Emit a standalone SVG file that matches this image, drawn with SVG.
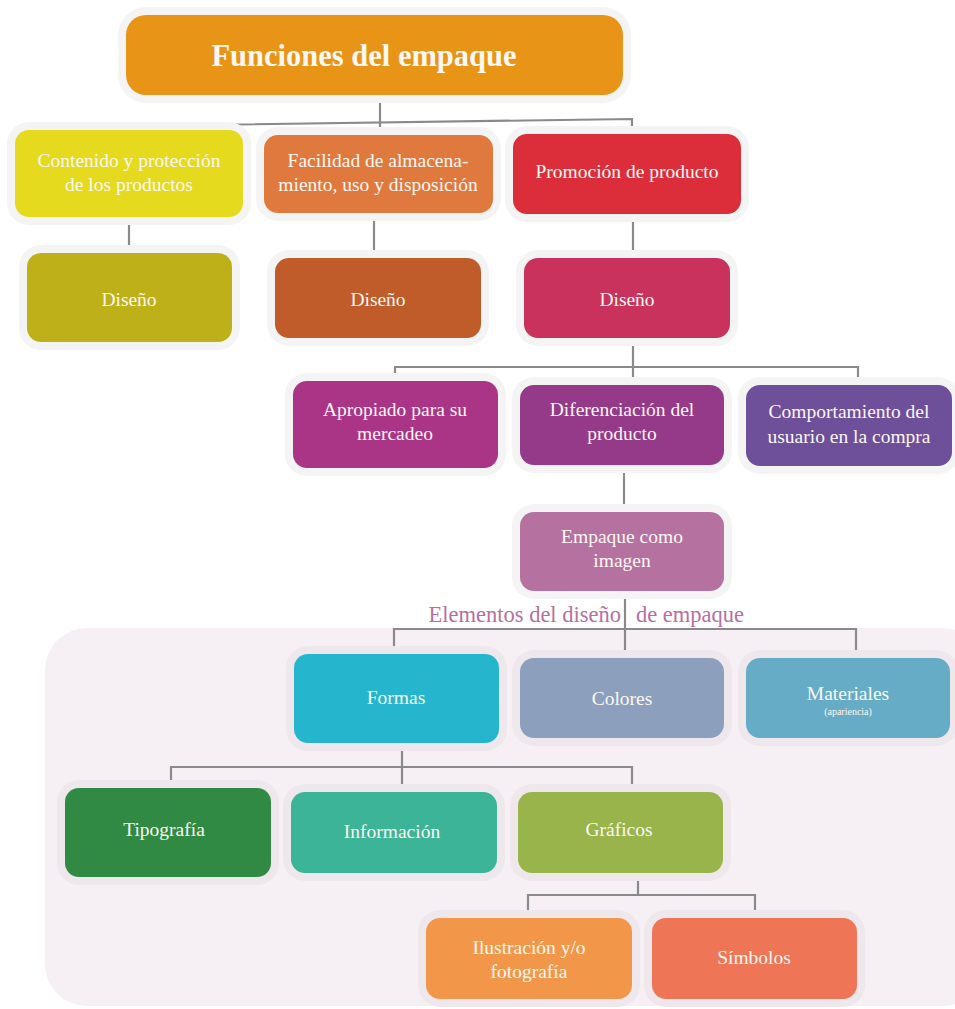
<svg xmlns="http://www.w3.org/2000/svg" width="955" height="1009" viewBox="0 0 955 1009">
  <style>
    .halo { fill: #F4F4F4; }
    .halo-p { fill: #EEE7EC; }
    .box { stroke: none; }
    .t { font-family: "Liberation Serif", "DejaVu Serif", serif; fill: #FBF7F2; text-anchor: middle; font-size: 19.5px; }
    .title { font-size: 30.5px; font-weight: bold; }
    .small { font-size: 10px; }
    .cap { font-family: "Liberation Serif", "DejaVu Serif", serif; fill: #B66FA1; font-size: 22.5px; }
    .wire { fill: none; stroke: #8A8A8A; stroke-width: 2.2; }
  </style>

  <!-- shaded area holding the design elements -->
  <rect x="45" y="628" width="940" height="378" rx="42" fill="#F6F0F4"/>

  <!-- connectors -->
  <g id="connectors">
    <path class="wire" d="M380 95 V122"/>
    <path class="wire" d="M129 130 V126 L632 119 V134"/>
    <path class="wire" d="M380 122 V135"/>
    <path class="wire" d="M129 217 V253"/>
    <path class="wire" d="M374 213 V258"/>
    <path class="wire" d="M633 214 V258"/>
    <path class="wire" d="M633 338 V385"/>
    <path class="wire" d="M395 381 V367 H858 V385"/>
    <path class="wire" d="M624 465 V512"/>
    <path class="wire" d="M625 591 V658"/>
    <path class="wire" d="M394 654 V629 H856 V658"/>
    <path class="wire" d="M402 743 V792"/>
    <path class="wire" d="M171 788 V767 H632 V792"/>
    <path class="wire" d="M638 873 V895"/>
    <path class="wire" d="M528 918 V895 H755 V918"/>
  </g>

  <g id="n-title">
    <rect class="halo" x="118" y="7" width="513" height="96" rx="28"/>
    <rect class="box" x="126" y="15" width="497" height="80" rx="20" fill="#E89517"/>
    <text class="t title" x="364" y="66">Funciones del empaque</text>
  </g>

  <g id="n-contenido">
    <rect class="halo" x="7" y="122" width="244" height="103" rx="22"/>
    <rect class="box" x="15" y="130" width="228" height="87" rx="14" fill="#E5DA1E"/>
    <text class="t" x="129" y="167">Contenido y protección</text>
    <text class="t" x="129" y="191">de los productos</text>
  </g>

  <g id="n-facilidad">
    <rect class="halo" x="256" y="127" width="245" height="94" rx="22"/>
    <rect class="box" x="264" y="135" width="229" height="78" rx="14" fill="#E0793D"/>
    <text class="t" x="378" y="167">Facilidad de almacena-</text>
    <text class="t" x="378" y="191">miento, uso y disposición</text>
  </g>

  <g id="n-promocion">
    <rect class="halo" x="505" y="126" width="244" height="96" rx="22"/>
    <rect class="box" x="513" y="134" width="228" height="80" rx="14" fill="#DC2E3A"/>
    <text class="t" x="627" y="178">Promoción de producto</text>
  </g>

  <g id="n-diseno-1">
    <rect class="halo" x="19" y="245" width="221" height="105" rx="22"/>
    <rect class="box" x="27" y="253" width="205" height="89" rx="14" fill="#BDB019"/>
    <text class="t" x="129" y="306">Diseño</text>
  </g>

  <g id="n-diseno-2">
    <rect class="halo" x="267" y="250" width="222" height="96" rx="22"/>
    <rect class="box" x="275" y="258" width="206" height="80" rx="14" fill="#C05C2A"/>
    <text class="t" x="378" y="306">Diseño</text>
  </g>

  <g id="n-diseno-3">
    <rect class="halo" x="516" y="250" width="222" height="96" rx="22"/>
    <rect class="box" x="524" y="258" width="206" height="80" rx="14" fill="#C8325C"/>
    <text class="t" x="627" y="306">Diseño</text>
  </g>

  <g id="n-apropiado">
    <rect class="halo" x="285" y="373" width="221" height="103" rx="22"/>
    <rect class="box" x="293" y="381" width="205" height="87" rx="14" fill="#AA3587"/>
    <text class="t" x="395" y="416">Apropiado para su</text>
    <text class="t" x="395" y="440">mercadeo</text>
  </g>

  <g id="n-diferenciacion">
    <rect class="halo" x="512" y="377" width="220" height="96" rx="22"/>
    <rect class="box" x="520" y="385" width="204" height="80" rx="14" fill="#943A89"/>
    <text class="t" x="622" y="416">Diferenciación del</text>
    <text class="t" x="622" y="440">producto</text>
  </g>

  <g id="n-comportamiento">
    <rect class="halo" x="738" y="377" width="222" height="97" rx="22"/>
    <rect class="box" x="746" y="385" width="206" height="81" rx="14" fill="#6E4F9A"/>
    <text class="t" x="849" y="418">Comportamiento del</text>
    <text class="t" x="849" y="443">usuario en la compra</text>
  </g>

  <g id="n-empaque-imagen">
    <rect class="halo" x="512" y="504" width="220" height="95" rx="22"/>
    <rect class="box" x="520" y="512" width="204" height="79" rx="14" fill="#B5719F"/>
    <text class="t" x="622" y="543">Empaque como</text>
    <text class="t" x="622" y="567">imagen</text>
  </g>

  <!-- caption across the link into the elements area -->
  <text class="cap" x="621" y="622" text-anchor="end">Elementos del diseño</text>
  <text class="cap" x="636" y="622">de empaque</text>

  <g id="n-formas">
    <rect class="halo-p" x="286" y="646" width="221" height="105" rx="22"/>
    <rect class="box" x="294" y="654" width="205" height="89" rx="14" fill="#25B6CD"/>
    <text class="t" x="396" y="704">Formas</text>
  </g>

  <g id="n-colores">
    <rect class="halo-p" x="512" y="650" width="220" height="96" rx="22"/>
    <rect class="box" x="520" y="658" width="204" height="80" rx="14" fill="#8C9FBC"/>
    <text class="t" x="622" y="705">Colores</text>
  </g>

  <g id="n-materiales">
    <rect class="halo-p" x="738" y="650" width="220" height="96" rx="22"/>
    <rect class="box" x="746" y="658" width="204" height="80" rx="14" fill="#66ACC6"/>
    <text class="t" x="848" y="700">Materiales</text>
    <text class="t small" x="848" y="715">(apariencia)</text>
  </g>

  <g id="n-tipografia">
    <rect class="halo-p" x="57" y="780" width="222" height="105" rx="22"/>
    <rect class="box" x="65" y="788" width="206" height="89" rx="14" fill="#318A43"/>
    <text class="t" x="164" y="836">Tipografía</text>
  </g>

  <g id="n-informacion">
    <rect class="halo-p" x="283" y="784" width="222" height="97" rx="22"/>
    <rect class="box" x="291" y="792" width="206" height="81" rx="14" fill="#3BB497"/>
    <text class="t" x="392" y="838">Información</text>
  </g>

  <g id="n-graficos">
    <rect class="halo-p" x="510" y="784" width="221" height="97" rx="22"/>
    <rect class="box" x="518" y="792" width="205" height="81" rx="14" fill="#98B44B"/>
    <text class="t" x="619" y="836">Gráficos</text>
  </g>

  <g id="n-ilustracion">
    <rect class="halo-p" x="418" y="910" width="222" height="97" rx="22"/>
    <rect class="box" x="426" y="918" width="206" height="81" rx="14" fill="#F2974A"/>
    <text class="t" x="529" y="954">Ilustración y/o</text>
    <text class="t" x="529" y="978">fotografía</text>
  </g>

  <g id="n-simbolos">
    <rect class="halo-p" x="644" y="910" width="221" height="97" rx="22"/>
    <rect class="box" x="652" y="918" width="205" height="81" rx="14" fill="#EE7556"/>
    <text class="t" x="754" y="964">Símbolos</text>
  </g>
</svg>
